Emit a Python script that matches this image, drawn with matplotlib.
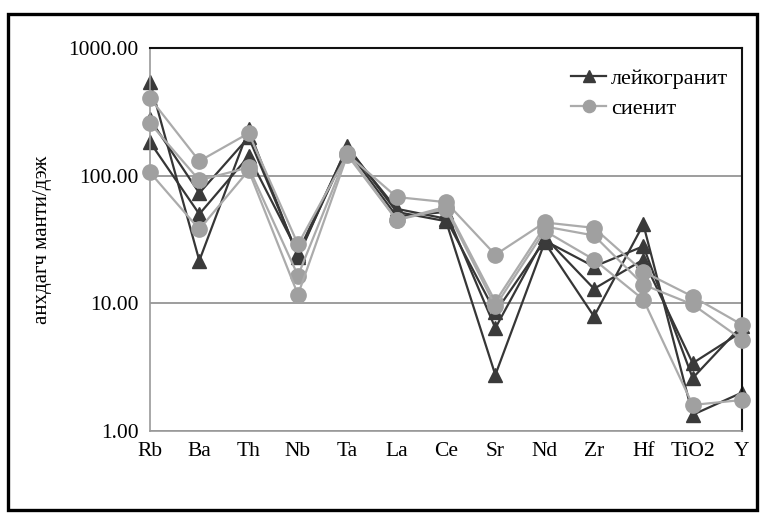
import numpy as np
import matplotlib as mpl
import matplotlib.pyplot as plt
from matplotlib.patches import Rectangle

mpl.rcParams['font.family'] = ['Liberation Serif', 'DejaVu Serif']

elements = ['Rb', 'Ba', 'Th', 'Nb', 'Ta', 'La', 'Ce', 'Sr', 'Nd', 'Zr', 'Hf', 'TiO2', 'Y']

# leucogranite samples (triangles)
leuco_1 = [542, 21.6, 230, 23, 170, 52, 44, 2.75, 30, 7.9, 41.5, 1.34, 2.0]
leuco_2 = [277, 73, 200, 24, 160, 48, 52, 6.4, 33, 13, 22, 3.4, 6.0]
leuco_3 = [183, 50, 142, 25, 165, 55, 46, 8.5, 31, 19.4, 28, 2.6, 6.7]

# syenite samples (circles)
syen_1 = [405, 130, 215, 29, 147, 68, 62, 24, 43, 39, 17.7, 11.3, 6.8]
syen_2 = [258, 92, 116, 16.5, 150, 45, 57, 10.3, 40, 34, 14, 9.8, 5.2]
syen_3 = [106, 38, 110, 11.7, 145, 45, 55, 9.5, 37, 22, 10.7, 1.6, 1.75]

leuco = [leuco_1, leuco_2, leuco_3]
syen = [syen_1, syen_2, syen_3]

fig = plt.figure(figsize=(7.66, 5.16), dpi=100)
ax = fig.add_axes([0.1958, 0.1647, 0.7729, 0.7423])

x = np.arange(len(elements))

for i, s in enumerate(syen):
    ax.plot(x, s, color='#ababab', lw=1.6, marker='o', ms=11,
            mfc='#a0a0a0', mec='#a0a0a0', label='сиенит' if i == 0 else None,
            zorder=3, clip_on=False)
for i, s in enumerate(leuco):
    ax.plot(x, s, color='#363636', lw=1.6, marker='^', ms=10,
            mfc='#3a3a3a', mec='#3a3a3a', label='лейкогранит' if i == 0 else None,
            zorder=2, clip_on=False)

ax.set_yscale('log')
ax.set_ylim(1, 1000)
ax.set_xlim(0, len(elements) - 1)
ax.set_xticks(x)
ax.set_xticklabels(elements, fontsize=15.5)
ax.set_yticks([1, 10, 100, 1000])
ax.set_yticklabels(['1.00', '10.00', '100.00', '1000.00'], fontsize=15.5)
ax.yaxis.set_minor_locator(mpl.ticker.NullLocator())
ax.tick_params(length=0, pad=8)
ax.set_ylabel('анхдагч манти/дэж', fontsize=15, labelpad=12)

ax.grid(True, axis='y', color='#8c8c8c', lw=1.2)
ax.set_axisbelow(True)
for side in ['top', 'right']:
    ax.spines[side].set_color('#111111')
    ax.spines[side].set_linewidth(1.5)
for side in ['left', 'bottom']:
    ax.spines[side].set_color('#999999')
    ax.spines[side].set_linewidth(1.2)

handles, labels = ax.get_legend_handles_labels()
ax.legend(handles[::-1], labels[::-1], loc='upper right', bbox_to_anchor=(1.01, 1.0),
          frameon=False, fontsize=16, handlelength=1.6, handletextpad=0.2,
          labelspacing=0.45, markerscale=0.8)

# outer frame
fig.patches.append(Rectangle((0.0104, 0.0116), 0.9776, 0.9614, transform=fig.transFigure,
                             fill=False, ec='black', lw=2.4))

fig.savefig('out.png', dpi=100)
